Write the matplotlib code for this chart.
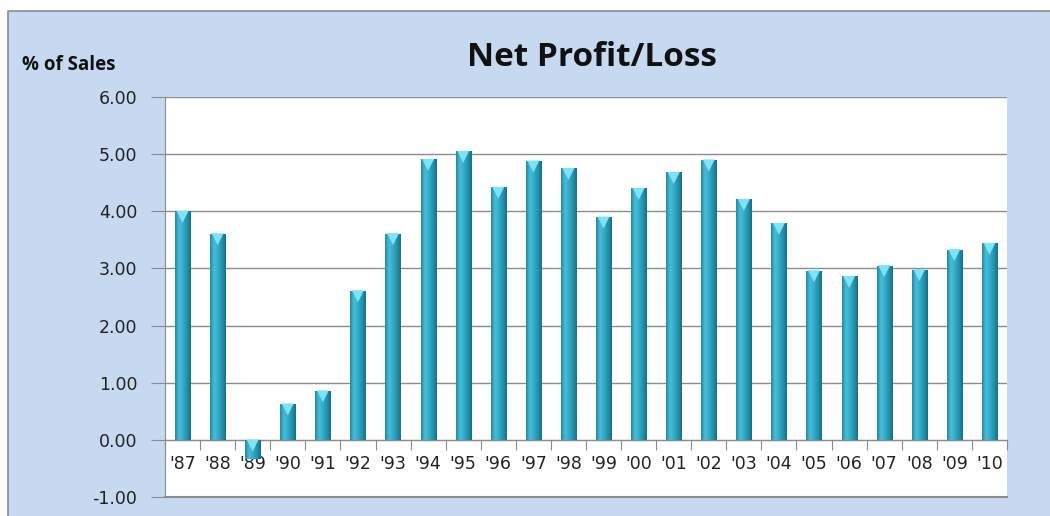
import numpy as np
import matplotlib.pyplot as plt
import matplotlib.transforms as mtransforms
from matplotlib.colors import LinearSegmentedColormap
from matplotlib.patches import Rectangle

years = ["'87", "'88", "'89", "'90", "'91", "'92", "'93", "'94", "'95", "'96", "'97", "'98",
         "'99", "'00", "'01", "'02", "'03", "'04", "'05", "'06", "'07", "'08", "'09", "'10"]
profit = [4.00, 3.61, -0.33, 0.63, 0.86, 2.61, 3.61, 4.91, 5.05, 4.42, 4.88, 4.75,
          3.90, 4.40, 4.68, 4.90, 4.21, 3.79, 2.96, 2.86, 3.05, 2.98, 3.33, 3.44]
yticks = [-1, 0, 1, 2, 3, 4, 5, 6]

fig = plt.figure(figsize=(10.5, 5.16), dpi=100)
fig.patch.set_facecolor('white')
# outer chart area (light blue panel, cropped at right/bottom)
fig.patches.append(Rectangle((8/1050, -0.01), 1.1, (516-11)/516 + 0.01, transform=fig.transFigure,
                             facecolor='#c6d9f0', edgecolor='#8c8c8c', lw=1.2, zorder=-5))

ax = fig.add_axes([165/1050, 1 - 497/516, (1007-165)/1050, (497-97)/516])
ax.set_facecolor('white')
x = np.arange(len(years))
bars = ax.bar(x, profit, width=0.43, color='#2ea3c0', zorder=3)

cmap = LinearSegmentedColormap.from_list('cyl', ['#2288a3', '#49bedb', '#35abc8', '#2592ad', '#186e85'])
grad = np.linspace(0, 1, 64).reshape(1, -1)
for b in bars:
    x0, y0 = b.get_x(), b.get_y()
    w, h = b.get_width(), b.get_height()
    im = ax.imshow(grad, extent=[x0, x0 + w, y0, y0 + h], aspect='auto', cmap=cmap,
                   zorder=4, interpolation='bicubic')
    im.set_clip_path(b)
# light caps on bar tops (triangle just inside the top edge)
cap_off = mtransforms.ScaledTranslation(0, -4/72, fig.dpi_scale_trans)
ax.scatter(x, np.maximum(profit, 0), marker='v', s=75, color='#7fe3f7', edgecolor='none',
           zorder=5, transform=ax.transData + cap_off)

ax.set_xlim(-0.5, len(years) - 0.5)
ax.set_ylim(-1, 6)
ax.set_yticks(yticks)
ax.set_yticklabels([f'{v:.2f}' for v in yticks], fontsize=12.5, color='#222222', family='DejaVu Sans')
ax.yaxis.grid(True, color='#8c8c8c', lw=1.0, zorder=1)
ax.set_axisbelow(True)
ax.tick_params(axis='y', length=10, color='#8c8c8c', pad=10)

ax.spines['bottom'].set_position(('data', 0))
ax.spines['bottom'].set_color('#8c8c8c')
ax.spines['left'].set_color('#8c8c8c')
ax.spines['top'].set_visible(False)
ax.spines['right'].set_visible(False)
ax.axhline(-1, color='#8c8c8c', lw=1.5, clip_on=False, zorder=2)

ax.set_xticks(np.arange(-0.5, len(years), 1.0))
ax.set_xticklabels([])
ax.set_xticks(x, minor=True)
ax.set_xticklabels(years, minor=True, fontsize=12.5, color='#222222', family='DejaVu Sans')
ax.tick_params(axis='x', which='major', length=7, direction='out', color='#8c8c8c')
ax.tick_params(axis='x', which='minor', length=0, pad=11)

fig.text(592/1050, 1 - 66/516, 'Net Profit/Loss', ha='center', va='baseline',
         fontsize=24, fontweight='bold', family='Open Sans', color='#111111')
fig.text(22/1050, 1 - 65/516, '% of Sales', ha='left', va='center',
         fontsize=13.5, fontweight='bold', family='Open Sans', color='#111111')

fig.savefig('out.png', dpi=100)
